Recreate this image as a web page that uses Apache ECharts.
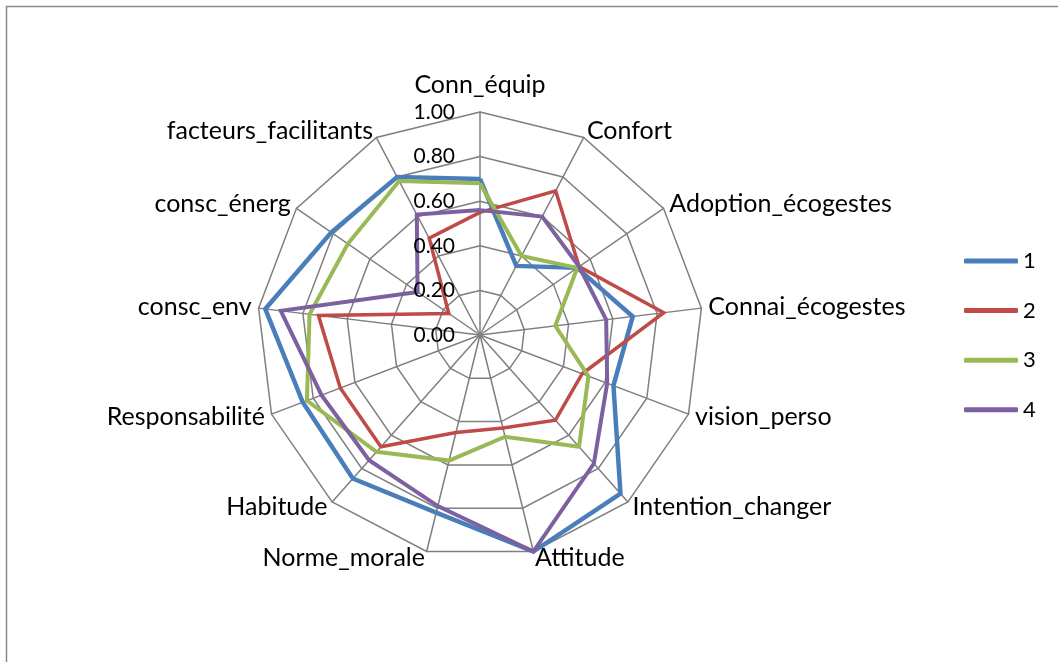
<!DOCTYPE html>
<html>
<head>
<meta charset="utf-8">
<script src="https://cdn.jsdelivr.net/npm/echarts@6/dist/echarts.min.js"></script>
<style>
  html, body { margin: 0; padding: 0; background: #fff; }
  #chart { width: 1058px; height: 662px; }
</style>
</head>
<body>
<div id="chart"></div>
<script>
// Dimensions, listed clockwise from the top
const categories = ['Conn_équip', 'Confort', 'Adoption_écogestes', 'Connai_écogestes', 'vision_perso',
  'Intention_changer', 'Attitude', 'Norme_morale', 'Habitude', 'Responsabilité',
  'consc_env', 'consc_énerg', 'facteurs_facilitants'];

const seriesNames = ['1', '2', '3', '4'];
const values1 = [0.70, 0.35, 0.53, 0.69, 0.64, 0.95, 1.00, 0.82, 0.86, 0.85, 0.97, 0.81, 0.80];
const values2 = [0.55, 0.73, 0.54, 0.83, 0.49, 0.51, 0.43, 0.45, 0.67, 0.67, 0.73, 0.17, 0.49];
const values3 = [0.68, 0.40, 0.53, 0.34, 0.52, 0.67, 0.47, 0.58, 0.70, 0.83, 0.77, 0.72, 0.78];
const values4 = [0.56, 0.60, 0.54, 0.57, 0.61, 0.77, 1.00, 0.79, 0.75, 0.76, 0.90, 0.34, 0.61];

const scaleMin = 0, scaleMax = 1, scaleStep = 0.2;

const colors = ['#4A7EBB', '#BE4B48', '#98B954', '#7D60A0'];
const widths = [4.5, 3.5, 4, 4];
const FONT = 'Lato';

// ECharts places indicators counter-clockwise; reorder so they run clockwise
const order = [0];
for (let i = categories.length - 1; i >= 1; i--) order.push(i);
const reorder = arr => order.map(i => arr[i]);

const allValues = [values1, values2, values3, values4];
const CX = 480, CY = 335, R = 223;

const chart = echarts.init(document.getElementById('chart'), null, { renderer: 'canvas' });
chart.setOption({
  backgroundColor: '#fff',
  animation: false,
  color: colors,
  graphic: [{
    type: 'rect',
    shape: { x: 6.5, y: 6.5, width: 1100, height: 720 },
    style: { fill: 'none', stroke: '#8a8a8a', lineWidth: 1.5 },
    silent: true
  }],
  legend: {
    orient: 'vertical',
    left: 959,
    top: 245,
    icon: 'roundRect',
    itemWidth: 54,
    itemHeight: 5,
    itemGap: 27.6,
    textStyle: { fontSize: 22, fontFamily: FONT, color: '#000' },
    data: seriesNames
  },
  radar: {
    center: [CX, CY],
    radius: R,
    startAngle: 90,
    shape: 'polygon',
    splitNumber: 5,
    nameGap: 7,
    axisName: {
      color: '#000', fontSize: 25, fontFamily: FONT,
      // the top name sits a little higher, clear of the scale labels
      formatter: name => name === categories[0] ? '{top|' + name + '}' : name,
      rich: { top: { color: '#000', fontSize: 25, fontFamily: FONT, padding: [0, 0, 8, 0] } }
    },
    axisLine: { lineStyle: { color: '#7f7f7f', width: 1.5 } },
    splitLine: { lineStyle: { color: '#7f7f7f', width: 1.5 } },
    splitArea: { show: false },
    indicator: reorder(categories).map(n => ({ name: n, min: scaleMin, max: scaleMax }))
  },
  // value scale along the top spoke
  grid: { left: CX, top: CY - R, width: 1, height: R, containLabel: false },
  xAxis: { type: 'value', show: false },
  yAxis: {
    type: 'value',
    min: scaleMin, max: scaleMax, interval: scaleStep,
    z: 10,
    axisLine: { show: false },
    axisTick: { show: false },
    splitLine: { show: false },
    axisLabel: {
      margin: 25,
      fontSize: 21,
      fontFamily: FONT,
      color: '#000',
      formatter: v => v.toFixed(2)
    }
  },
  series: [{
    type: 'radar',
    symbol: 'none',
    data: allValues.map((vals, k) => ({
      name: seriesNames[k],
      value: reorder(vals),
      lineStyle: { color: colors[k], width: widths[k], join: 'miter' },
      itemStyle: { color: colors[k] }
    }))
  }]
});
</script>
</body>
</html>
